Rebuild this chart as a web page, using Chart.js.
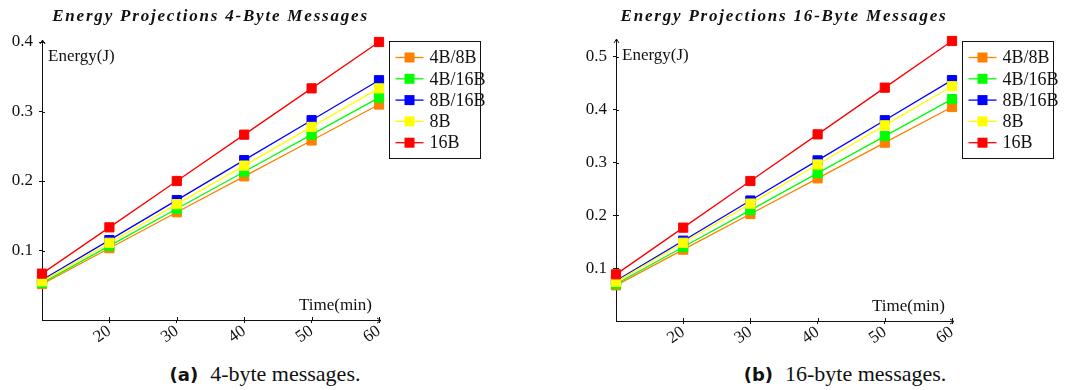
<!DOCTYPE html>
<html>
<head>
<meta charset="utf-8">
<script src="https://cdn.jsdelivr.net/npm/chart.js@4.4.1/dist/chart.umd.min.js"></script>
<style>
  body { margin: 0; background: #fff; width: 1068px; height: 390px; position: relative; overflow: hidden; }
  .box { position: absolute; top: 0; width: 534px; height: 360px; }
  .cap { position: absolute; top: 363px; width: 530px; text-align: center; font-family: "Liberation Serif", serif; font-size: 22px; line-height: 22px; color: #111; }
  .cap b { font-family: "DejaVu Sans", sans-serif; font-size: 18px; margin-right: 12px; }
</style>
</head>
<body>
<div class="box" style="left:0"><canvas id="chart-a" width="534" height="360"></canvas></div>
<div class="box" style="left:534px"><canvas id="chart-b" width="534" height="360"></canvas></div>
<div class="cap" style="left:0"><b>(a)</b>4-byte messages.</div>
<div class="cap" style="left:580px"><b>(b)</b>16-byte messages.</div>
<script>
// data ------------------------------------------------------------------------
const minutes = [10, 20, 30, 40, 50, 60]
const seriesNames = ['4B/8B', '4B/16B', '8B/16B', '8B', '16B']

// (a) 4-byte messages
const a4B8B  = [0.0517, 0.1033, 0.155, 0.2067, 0.2583, 0.31]
const a4B16B = [0.0533, 0.1067, 0.16, 0.2133, 0.2667, 0.32]
const a8B16B = [0.0575, 0.115, 0.1725, 0.23, 0.2875, 0.345]
const a8B    = [0.0556, 0.1111, 0.1667, 0.2222, 0.2778, 0.3333]
const a16B   = [0.0667, 0.1333, 0.2, 0.2667, 0.3333, 0.4]

// (b) 16-byte messages
const b4B8B  = [0.0675, 0.135, 0.2025, 0.27, 0.3375, 0.405]
const b4B16B = [0.07, 0.14, 0.21, 0.28, 0.35, 0.42]
const b8B16B = [0.076, 0.152, 0.228, 0.304, 0.38, 0.456]
const b8B    = [0.0741, 0.1481, 0.2222, 0.2963, 0.3704, 0.4444]
const b16B   = [0.0883, 0.1767, 0.265, 0.3533, 0.4417, 0.53]

const colors = ['#ff8000', '#00ff00', '#0000ff', '#ffff00', '#ff0000']
const serif = '"Liberation Serif", serif'
const ink = '#111'

// axis decorations, labels, title and boxed legend ----------------------------
const decor = {
    id: 'decor',
    afterDraw(chart, args, opts) {
        const { ctx, chartArea: { left, right, top, bottom }, scales: { x, y } } = chart
        ctx.save()
        ctx.strokeStyle = ink
        ctx.fillStyle = ink
        ctx.lineWidth = 1

        // inner half of the tick marks
        ctx.beginPath()
        y.ticks.forEach(t => {
            if (t.value === 0) return
            const py = Math.round(y.getPixelForValue(t.value)) + 0.5
            ctx.moveTo(left, py)
            ctx.lineTo(left + 3, py)
        })
        x.ticks.forEach((t, i) => {
            if (i === 0) return
            const px = Math.round(x.getPixelForTick(i)) + 0.5
            ctx.moveTo(px, bottom)
            ctx.lineTo(px, bottom - 3)
        })
        ctx.stroke()

        // arrow heads
        const ax = Math.round(left) + 0.5
        const ay = Math.round(bottom) + 0.5
        ctx.beginPath()
        ctx.moveTo(ax, top); ctx.lineTo(ax, top - 2)
        ctx.moveTo(ax - 2.5, top + 2); ctx.lineTo(ax, top - 2); ctx.lineTo(ax + 2.5, top + 2)
        ctx.moveTo(right, ay); ctx.lineTo(right + 2, ay)
        ctx.moveTo(right - 2, ay - 2.5); ctx.lineTo(right + 2, ay); ctx.lineTo(right - 2, ay + 2.5)
        ctx.stroke()

        // axis labels
        ctx.font = '17px ' + serif
        ctx.textBaseline = 'alphabetic'
        ctx.textAlign = 'left'
        ctx.fillText('Energy(J)', left + 6, top + 19)
        ctx.textAlign = 'right'
        ctx.fillText('Time(min)', right - 7, bottom - 10)

        // title
        ctx.font = 'italic bold 17px ' + serif
        ctx.letterSpacing = '1.8px'
        ctx.textAlign = 'center'
        ctx.fillText(opts.title, (left + right) / 2, 21)
        ctx.letterSpacing = '0px'

        // legend
        const bx = Math.round(right) + 10.5
        const by = 41.5
        ctx.strokeRect(bx, by, 91, 117)
        ctx.font = '18px ' + serif
        ctx.textAlign = 'left'
        ctx.textBaseline = 'middle'
        chart.data.datasets.forEach((ds, i) => {
            const ry = by + 16 + i * 21.3
            ctx.strokeStyle = ds.borderColor
            ctx.fillStyle = ds.borderColor
            ctx.lineWidth = 1.3
            ctx.beginPath()
            ctx.moveTo(bx + 6, ry)
            ctx.lineTo(bx + 34, ry)
            ctx.stroke()
            ctx.fillRect(bx + 15, ry - 5, 10, 10)
            ctx.fillStyle = ink
            ctx.fillText(ds.label, bx + 40, ry + 1)
        })
        ctx.restore()
    }
}

function energyChart(canvasId, title, series, yMax, area) {
    const datasets = series.map((vals, i) => ({
        label: seriesNames[i],
        data: vals,
        borderColor: colors[i],
        backgroundColor: colors[i],
        pointBackgroundColor: colors[i],
        pointBorderColor: colors[i],
        borderWidth: 1.3,
        pointStyle: 'rect',
        pointRadius: 6.5,
        pointBorderWidth: 1,
        tension: 0,
        clip: false,
        order: series.length - i
    }))

    return new Chart(document.getElementById(canvasId), {
        type: 'line',
        data: { labels: minutes, datasets },
        options: {
            responsive: false,
            animation: false,
            devicePixelRatio: 1,
            layout: { padding: { top: area.top, right: area.right, left: 0, bottom: 0 } },
            plugins: {
                legend: { display: false },
                tooltip: { enabled: false },
                decor: { title }
            },
            scales: {
                x: {
                    type: 'category',
                    offset: false,
                    grid: {
                        drawOnChartArea: false,
                        tickLength: 3,
                        color: c => (c.index === 0 ? 'rgba(0,0,0,0)' : ink)
                    },
                    border: { display: true, color: ink, width: 1 },
                    ticks: {
                        autoSkip: false,
                        minRotation: 35,
                        maxRotation: 35,
                        padding: -2,
                        color: ink,
                        font: { family: serif, size: 17 },
                        callback: (v, i) => (i === 0 ? '' : minutes[i])
                    },
                    afterFit(s) { s.height = area.xh }
                },
                y: {
                    min: 0,
                    max: yMax,
                    grid: {
                        drawOnChartArea: false,
                        tickLength: 3,
                        color: c => (c.tick && c.tick.value === 0 ? 'rgba(0,0,0,0)' : ink)
                    },
                    border: { display: true, color: ink, width: 1 },
                    ticks: {
                        stepSize: 0.1,
                        includeBounds: false,
                        padding: 6,
                        color: ink,
                        font: { family: serif, size: 17 },
                        callback: v => (v === 0 ? '' : Math.round(v * 10) / 10)
                    },
                    afterFit(s) { s.width = area.yw }
                }
            }
        },
        plugins: [decor]
    })
}

energyChart('chart-a', 'Energy Projections 4-Byte Messages',
    [a4B8B, a4B16B, a8B16B, a8B, a16B], 0.4,
    { top: 42, right: 155, yw: 42, xh: 40 })

energyChart('chart-b', 'Energy Projections 16-Byte Messages',
    [b4B8B, b4B16B, b8B16B, b8B, b16B], 0.53,
    { top: 41, right: 116, yw: 82, xh: 39 })
</script>
</body>
</html>
